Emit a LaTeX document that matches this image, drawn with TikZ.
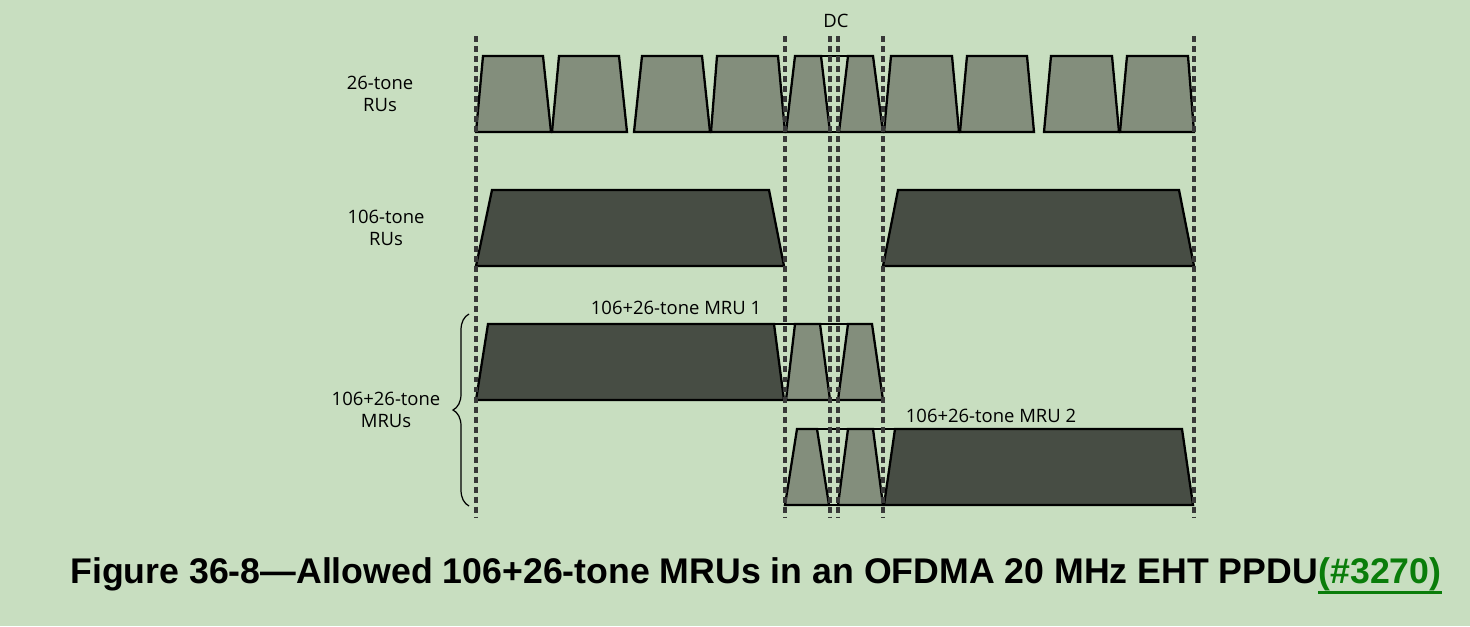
\documentclass[tikz,border=0pt]{standalone}
\usepackage{fontspec}
\setmainfont{Open Sans}
\newfontfamily\capfont{Liberation Sans}
\usetikzlibrary{decorations.pathreplacing}
\definecolor{bgGreen}{HTML}{C8DEC0}
\definecolor{ruLight}{HTML}{838E7C}
\definecolor{ruDark}{HTML}{474D44}
\definecolor{guideGray}{HTML}{383838}
\definecolor{linkGreen}{HTML}{0A7D0A}

\begin{document}
\begin{tikzpicture}[x=0.02cm,y=-0.02cm,line join=miter,
  small/.style={fill=ruLight,draw=black,line width=1.3pt},
  big/.style={fill=ruDark,draw=black,line width=1.3pt},
  edge/.style={draw=black,line width=1.3pt},
  guide/.style={draw=guideGray,line width=1.9pt,dash pattern=on 3.4pt off 2.3pt},
  lbl/.style={font=\fontsize{10.5}{12.8}\selectfont,align=center,inner sep=0pt}]
\fill[bgGreen] (0,0) rectangle (1470,626);
% 26-tone RUs (centre one split by DC)
\foreach \a/\b/\c/\d in {476/483/543/551, 552/559/619/627, 634/642/702/710, 711/717/778/785,
    786/795/821/830, 839/848/873/883, 884/891/952/959, 960/967/1027/1034,
    1044/1051/1112/1119, 1120/1127/1188/1194}
  \draw[small] (\a,132) -- (\b,56) -- (\c,56) -- (\d,132) -- cycle;
\draw[edge] (821,56) -- (848,56) (830,132) -- (839,132);
% 106-tone RUs
\foreach \a/\b/\c/\d in {476/492/769/784, 883/898/1179/1194}
  \draw[big] (\a,266) -- (\b,190) -- (\c,190) -- (\d,266) -- cycle;
% MRU 1
\draw[big] (476,400) -- (488,324) -- (774,324) -- (784,400) -- cycle;
\foreach \a/\b/\c/\d in {786/795/820/830, 838/848/872/883}
  \draw[small] (\a,400) -- (\b,324) -- (\c,324) -- (\d,400) -- cycle;
\draw[edge] (774,324) -- (795,324) (820,324) -- (848,324) (784,400) -- (838,400);
% MRU 2
\foreach \a/\b/\c/\d in {785/797/817/829, 838/848/873/883}
  \draw[small] (\a,505) -- (\b,429) -- (\c,429) -- (\d,505) -- cycle;
\draw[big] (884,505) -- (895,429) -- (1182,429) -- (1193,505) -- cycle;
\draw[edge] (817,429) -- (848,429) (873,429) -- (895,429) (829,505) -- (838,505);
% guides
\foreach \x in {476,785,830,838,883,1194}
  \draw[guide] (\x,36) -- (\x,517);
% labels
\node[lbl] (dc) at (836,21) {DC};
\node[lbl] (ru26) at (380,94) {26-tone\\RUs};
\node[lbl] (ru106) at (386,228) {106-tone\\RUs};
\node[lbl] (mrus) at (386,410) {106+26-tone\\MRUs};
\node[lbl] (mru1) at (676,308) {106+26-tone MRU 1};
\node[lbl] (mru2) at (991,416) {106+26-tone MRU 2};
\draw[line width=0.7pt,decorate,decoration={brace,amplitude=0.32cm}] (469,506) -- (469,314);
% caption
\node[font=\capfont\bfseries\fontsize{20.3}{22}\selectfont,inner sep=0pt,anchor=base west] (cap)
  at (70,583) {Figure 36-8—Allowed 106+26-tone MRUs in an OFDMA 20 MHz EHT PPDU};
\node[font=\capfont\bfseries\fontsize{20.3}{22}\selectfont,inner sep=0pt,anchor=base west,
  text=linkGreen] (link) at (cap.base east) {(\#3270)};
\draw[linkGreen,line width=2pt] ([yshift=-0.19cm]link.base west) -- ([yshift=-0.19cm]link.base east);
\end{tikzpicture}
\end{document}
